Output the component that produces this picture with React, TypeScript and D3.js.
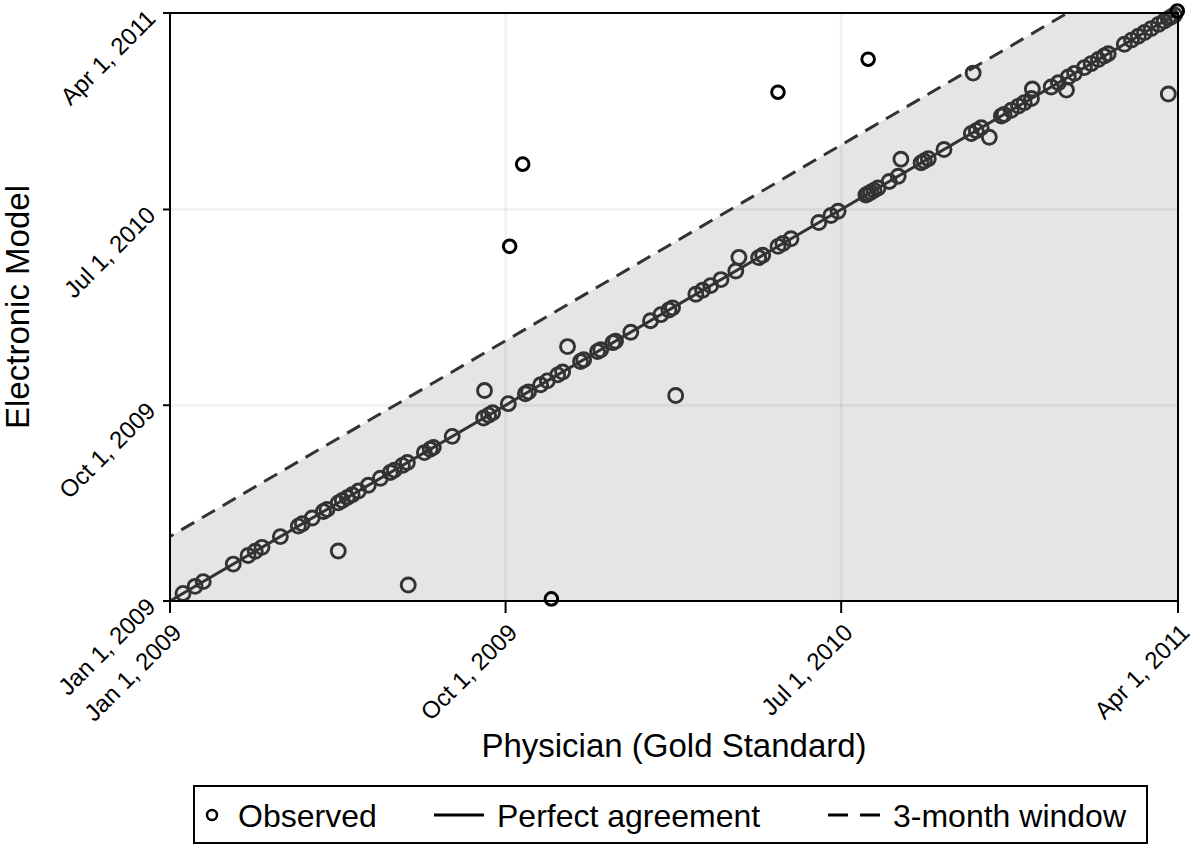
import React from "react";
import * as d3 from "d3";

// Dates as decimal years
const agreeDates = [2009.029, 2009.056, 2009.074, 2009.141, 2009.174, 2009.190, 2009.205, 2009.246, 2009.286, 2009.295, 2009.317, 2009.342, 2009.350, 2009.375, 2009.384, 2009.395, 2009.406, 2009.420, 2009.442, 2009.469, 2009.491, 2009.500, 2009.518, 2009.529, 2009.567, 2009.580, 2009.587, 2009.629, 2009.699, 2009.710, 2009.719, 2009.754, 2009.792, 2009.799, 2009.826, 2009.841, 2009.864, 2009.875, 2009.915, 2009.922, 2009.953, 2009.960, 2009.987, 2009.993, 2010.027, 2010.071, 2010.094, 2010.112, 2010.120, 2010.172, 2010.187, 2010.205, 2010.228, 2010.261, 2010.312, 2010.321, 2010.355, 2010.366, 2010.384, 2010.446, 2010.473, 2010.489, 2010.551, 2010.556, 2010.562, 2010.569, 2010.578, 2010.603, 2010.623, 2010.674, 2010.681, 2010.690, 2010.725, 2010.786, 2010.797, 2010.808, 2010.853, 2010.859, 2010.875, 2010.891, 2010.904, 2010.920, 2010.964, 2010.980, 2011.002, 2011.016, 2011.038, 2011.053, 2011.069, 2011.082, 2011.091, 2011.127, 2011.143, 2011.158, 2011.172, 2011.187, 2011.203, 2011.216, 2011.225, 2011.232, 2011.239];

const offPhysician = [2009.701, 2009.886, 2010.127, 2010.268, 2010.629, 2010.826, 2010.922, 2010.998, 2010.790, 2011.225, 2009.375, 2009.531];
const offModel = [2009.804, 2009.972, 2009.785, 2010.313, 2010.688, 2010.772, 2010.956, 2010.952, 2011.017, 2010.937, 2009.191, 2009.061];

const flagPhysician = [2009.850, 2009.757, 2009.786, 2010.355, 2010.556, 2011.245];
const flagModel = [2009.008, 2010.355, 2010.669, 2010.944, 2011.070, 2011.254];

const tickDates = ["2009-01-01", "2009-10-01", "2010-07-01", "2011-04-01"];
const tickLabels = ["Jan 1, 2009", "Oct 1, 2009", "Jul 1, 2010", "Apr 1, 2011"];
const windowMonths = 3;

const legendItems = ["Observed", "Perfect agreement", "3-month window"];

const FONT = '"Liberation Sans", Arial, Helvetica, sans-serif';

function decToDate(d: number): Date {
  const yr = Math.floor(d);
  const s = new Date(yr, 0, 1).getTime();
  const e = new Date(yr + 1, 0, 1).getTime();
  return new Date(s + (d - yr) * (e - s));
}
function parse(s: string): Date {
  const [y, m, d] = s.split("-").map(Number);
  return new Date(y, m - 1, d);
}

export default function App() {
  const L = 170, R = 1178, T = 13, B = 601;
  const ticks = tickDates.map(parse);
  const domain = [ticks[0], ticks[ticks.length - 1]];
  const x = d3.scaleTime().domain(domain).range([L, R]);
  const y = d3.scaleTime().domain(domain).range([B, T]);

  const d0 = domain[0];
  const d1 = domain[1];
  const d0w = d3.timeMonth.offset(d0, windowMonths);
  const d1w = d3.timeMonth.offset(d1, -windowMonths);

  const shade: [Date, Date][] = [
    [d0, d0w],
    [d1w, d1],
    [d1, d1],
    [d1, d0],
    [d0, d0],
  ];
  const line = d3.line<[Date, Date]>().x((p) => x(p[0])).y((p) => y(p[1]));

  const gridTicks = ticks.slice(1, ticks.length - 1);

  return (
    <svg width={1200} height={848} style={{ position: "absolute", left: 0, top: 0, background: "#fff" }} fontFamily={FONT}>
      <path d={line(shade) + "Z"} fill="#e5e5e5" stroke="none" />
      {gridTicks.map((t, i) => (
        <g key={"g" + i}>
          <line x1={x(t)} x2={x(t)} y1={T} y2={B} stroke="#000" strokeOpacity={0.05} strokeWidth={3} />
          <line x1={L} x2={R} y1={y(t)} y2={y(t)} stroke="#000" strokeOpacity={0.05} strokeWidth={3} />
        </g>
      ))}
      {/* 3-month window */}
      <path d={line([[d0, d0w], [d1w, d1]])!} fill="none" stroke="#333" strokeWidth={3} strokeDasharray="15 9" strokeDashoffset={-13} />
      {/* perfect agreement */}
      <path d={line([[d0, d0], [d1, d1]])!} fill="none" stroke="#333" strokeWidth={3} />
      {agreeDates.map((v, i) => (
        <circle key={"a" + i} cx={x(decToDate(v))} cy={y(decToDate(v))} r={7} fill="none" stroke="#333" strokeWidth={2.9} />
      ))}
      {offPhysician.map((v, i) => (
        <circle key={"o" + i} cx={x(decToDate(v))} cy={y(decToDate(offModel[i]))} r={7} fill="none" stroke="#333" strokeWidth={2.9} />
      ))}
      {flagPhysician.map((v, i) => (
        <circle key={"f" + i} cx={x(decToDate(v))} cy={y(decToDate(flagModel[i]))} r={6.3} fill="none" stroke="#000" strokeWidth={3} />
      ))}
      {/* frame */}
      <rect x={L} y={T} width={R - L} height={B - T} fill="none" stroke="#000" strokeWidth={2} />
      {/* y ticks */}
      {ticks.map((t, i) => (
        <g key={"yt" + i}>
          <line x1={L - 7} x2={L} y1={y(t)} y2={y(t)} stroke="#000" strokeWidth={2} />
          <text x={L - 13} y={y(t) + 7} fontSize={24} textAnchor="end" transform={`rotate(-45, ${L - 13}, ${y(t) + 7})`} fill="#000">
            {tickLabels[i]}
          </text>
        </g>
      ))}
      {/* x ticks */}
      {ticks.map((t, i) => (
        <g key={"xt" + i}>
          <line x1={x(t)} x2={x(t)} y1={B} y2={B + 12} stroke="#000" strokeWidth={2} />
          <text x={x(t) + 13} y={B + 33} fontSize={24} textAnchor="end" transform={`rotate(-45, ${x(t) + 13}, ${B + 33})`} fill="#000">
            {tickLabels[i]}
          </text>
        </g>
      ))}
      <text x={(L + R) / 2} y={757} fontSize={33} textAnchor="middle" fill="#000">Physician (Gold Standard)</text>
      <text x={29} y={(T + B) / 2} fontSize={33} textAnchor="middle" transform={`rotate(-90, 29, ${(T + B) / 2})`} fill="#000">Electronic Model</text>
      {/* legend */}
      <g>
        <rect x={194} y={786} width={953} height={57} fill="#fff" stroke="#000" strokeWidth={2} />
        <circle cx={212} cy={815} r={5} fill="none" stroke="#000" strokeWidth={2.5} />
        <text x={238} y={827} fontSize={32} fill="#000">{legendItems[0]}</text>
        <line x1={434} x2={484} y1={815} y2={815} stroke="#000" strokeWidth={2.8} />
        <text x={497} y={827} fontSize={32} fill="#000">{legendItems[1]}</text>
        <line x1={828} x2={880} y1={815} y2={815} stroke="#000" strokeWidth={2.8} strokeDasharray="20 12" />
        <text x={893} y={827} fontSize={32} fill="#000">{legendItems[2]}</text>
      </g>
    </svg>
  );
}
